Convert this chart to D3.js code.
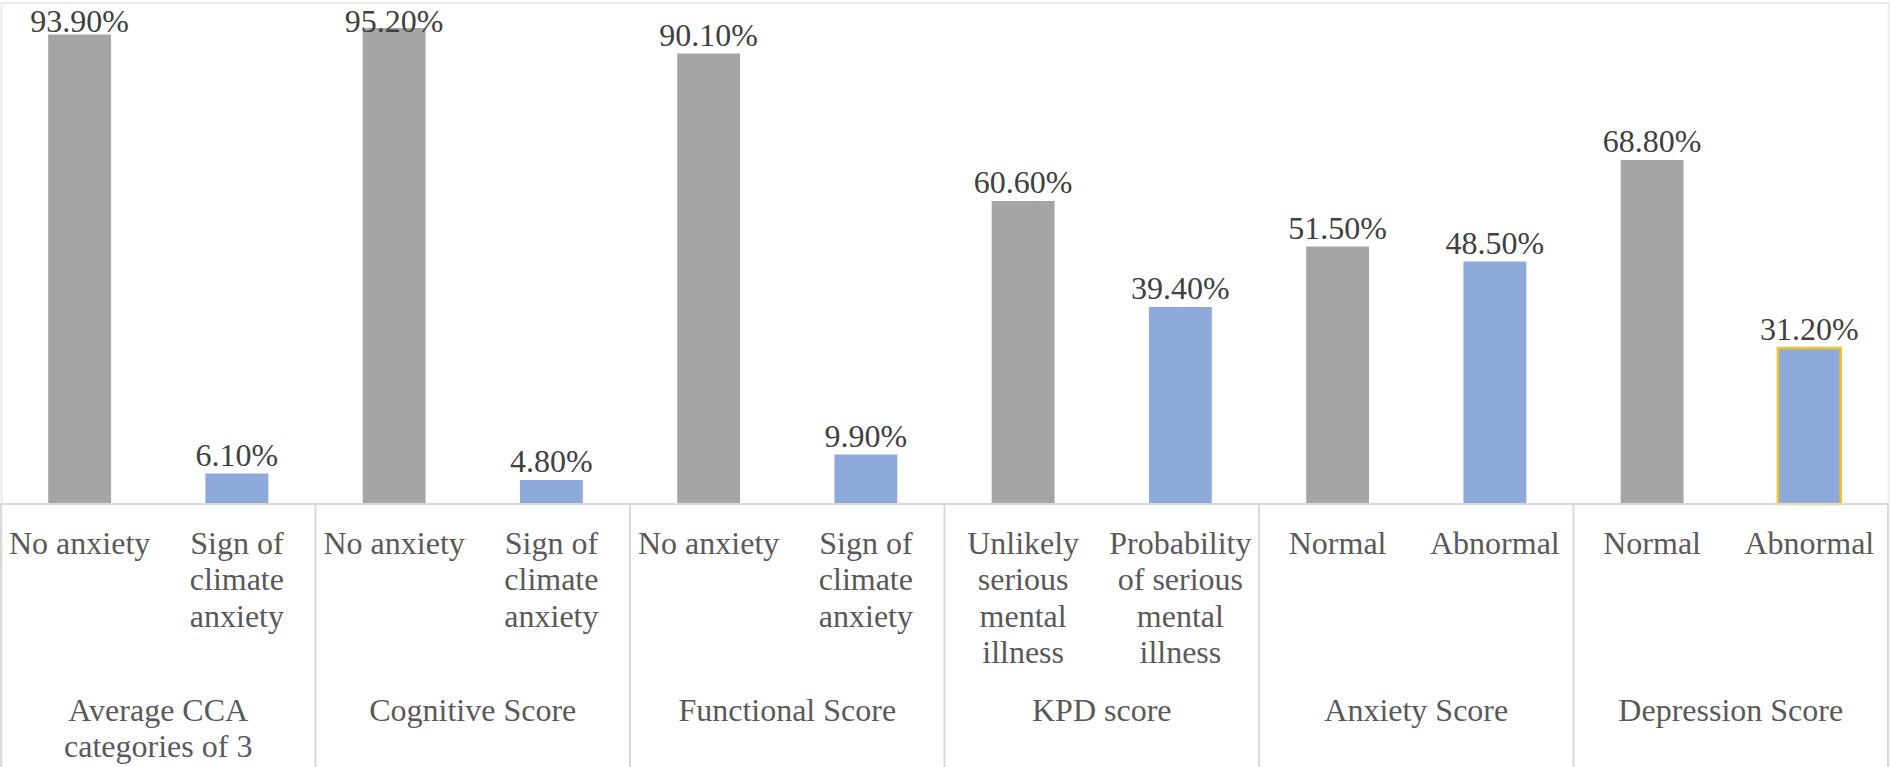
<!DOCTYPE html>
<html>
<head>
<meta charset="utf-8">
<script src="https://cdn.jsdelivr.net/npm/d3@7"></script>
<style>
    html, body { margin: 0; padding: 0; background: #fff; }
    svg { display: block; }
    .val-label, .cat-label, .group-label {
        font-family: "Liberation Serif", "Times New Roman", Tinos, "DejaVu Serif", serif;
        font-size: 32px;
        fill: #595959;
    }
    .val-label { fill: #404040; }
</style>
</head>
<body>
<svg id="chart"></svg>
<script>
// Groups (outer category axis)
const groups = ["Average CCA categories of 3", "Cognitive Score", "Functional Score",
                "KPD score", "Anxiety Score", "Depression Score"];
const groupLines = [["Average CCA", "categories of 3"], ["Cognitive Score"], ["Functional Score"],
                    ["KPD score"], ["Anxiety Score"], ["Depression Score"]];

// Inner category labels (already wrapped the way the picture wraps them)
const firstLabels = [["No anxiety"], ["No anxiety"], ["No anxiety"],
                     ["Unlikely", "serious", "mental", "illness"], ["Normal"], ["Normal"]];
const secondLabels = [["Sign of", "climate", "anxiety"], ["Sign of", "climate", "anxiety"],
                      ["Sign of", "climate", "anxiety"],
                      ["Probability", "of serious", "mental", "illness"], ["Abnormal"], ["Abnormal"]];

// Percent values
const firstValues = [93.9, 95.2, 90.1, 60.6, 51.5, 68.8];
const secondValues = [6.1, 4.8, 9.9, 39.4, 48.5, 31.2];

const CFG = {
    width: 1892,
    height: 767,
    left: 1,
    right: 1888,
    top: 4,
    baseline: 504,
    grey: "#a5a5a5",
    blue: "#8eaadb",
    lineHeight: 36.4
};

const svg = d3.select("#chart")
    .attr("width", CFG.width)
    .attr("height", CFG.height);

// faint outer frame
svg.append("rect")
    .attr("x", 1.5)
    .attr("y", 3)
    .attr("width", CFG.right - 1)
    .attr("height", CFG.height)
    .attr("fill", "none")
    .attr("stroke", "#e6eaf1")
    .attr("stroke-width", 2);

const x0 = d3.scaleBand()
    .domain(groups)
    .range([CFG.left, CFG.right]);

const x1 = d3.scaleBand()
    .domain([0, 1])
    .range([0, x0.bandwidth()])
    .paddingInner(0.6)
    .paddingOuter(0.3);

const y = d3.scaleLinear()
    .domain([0, 100])
    .range([CFG.baseline, CFG.top]);

const rows = groups.map((g, i) => ({
    group: g,
    bars: [
        { k: 0, value: firstValues[i], lines: firstLabels[i] },
        { k: 1, value: secondValues[i], lines: secondLabels[i] }
    ]
}));

// Bars
const gGroups = svg.append("g")
    .selectAll("g")
    .data(rows)
    .join("g")
    .attr("transform", d => `translate(${x0(d.group)},0)`);

gGroups.selectAll("rect")
    .data(d => d.bars)
    .join("rect")
    .attr("x", d => x1(d.k))
    .attr("y", d => y(d.value))
    .attr("width", x1.bandwidth())
    .attr("height", d => CFG.baseline - y(d.value))
    .attr("fill", d => d.k === 0 ? CFG.grey : CFG.blue);

// the last bar has a yellow outline in the original
gGroups.filter((d, i) => i === groups.length - 1)
    .selectAll("rect")
    .filter(d => d.k === 1)
    .attr("stroke", "#f2c12e")
    .attr("stroke-width", 2.5);

// Value labels (kept inside the chart at the top)
gGroups.selectAll(".val-label")
    .data(d => d.bars)
    .join("text")
    .attr("class", "val-label")
    .attr("x", d => x1(d.k) + x1.bandwidth() / 2)
    .attr("y", d => Math.max(y(d.value) - 8, 32))
    .attr("text-anchor", "middle")
    .text(d => d.value.toFixed(2) + "%");

// Category axis
const axis = svg.append("g")
    .attr("transform", `translate(0,${CFG.baseline})`)
    .call(d3.axisBottom(x0).tickSize(0).tickFormat(""));
axis.select(".domain").remove();

axis.append("line")
    .attr("x1", CFG.left)
    .attr("x2", CFG.right)
    .attr("stroke", "#d9d9d9")
    .attr("stroke-width", 2);

// vertical dividers between groups
const edges = groups.map(g => x0(g)).concat([CFG.right]);
axis.selectAll(".divider")
    .data(edges)
    .join("line")
    .attr("class", "divider")
    .attr("x1", d => d)
    .attr("x2", d => d)
    .attr("y1", 0)
    .attr("y2", CFG.height - CFG.baseline)
    .attr("stroke", "#d9d9d9")
    .attr("stroke-width", 2);

// inner labels
gGroups.selectAll(".cat-label")
    .data(d => d.bars)
    .join("text")
    .attr("class", "cat-label")
    .attr("text-anchor", "middle")
    .each(function(d) {
        const cx = x1(d.k) + x1.bandwidth() / 2;
        d3.select(this).selectAll("tspan")
            .data(d.lines)
            .join("tspan")
            .attr("x", cx)
            .attr("y", (l, j) => 554 + j * CFG.lineHeight)
            .text(l => l);
    });

// outer group labels
gGroups.append("text")
    .attr("class", "group-label")
    .attr("text-anchor", "middle")
    .each(function(d, i) {
        d3.select(this).selectAll("tspan")
            .data(groupLines[i])
            .join("tspan")
            .attr("x", x0.bandwidth() / 2)
            .attr("y", (l, j) => 721 + j * 35.5)
            .text(l => l);
    });
</script>
</body>
</html>
